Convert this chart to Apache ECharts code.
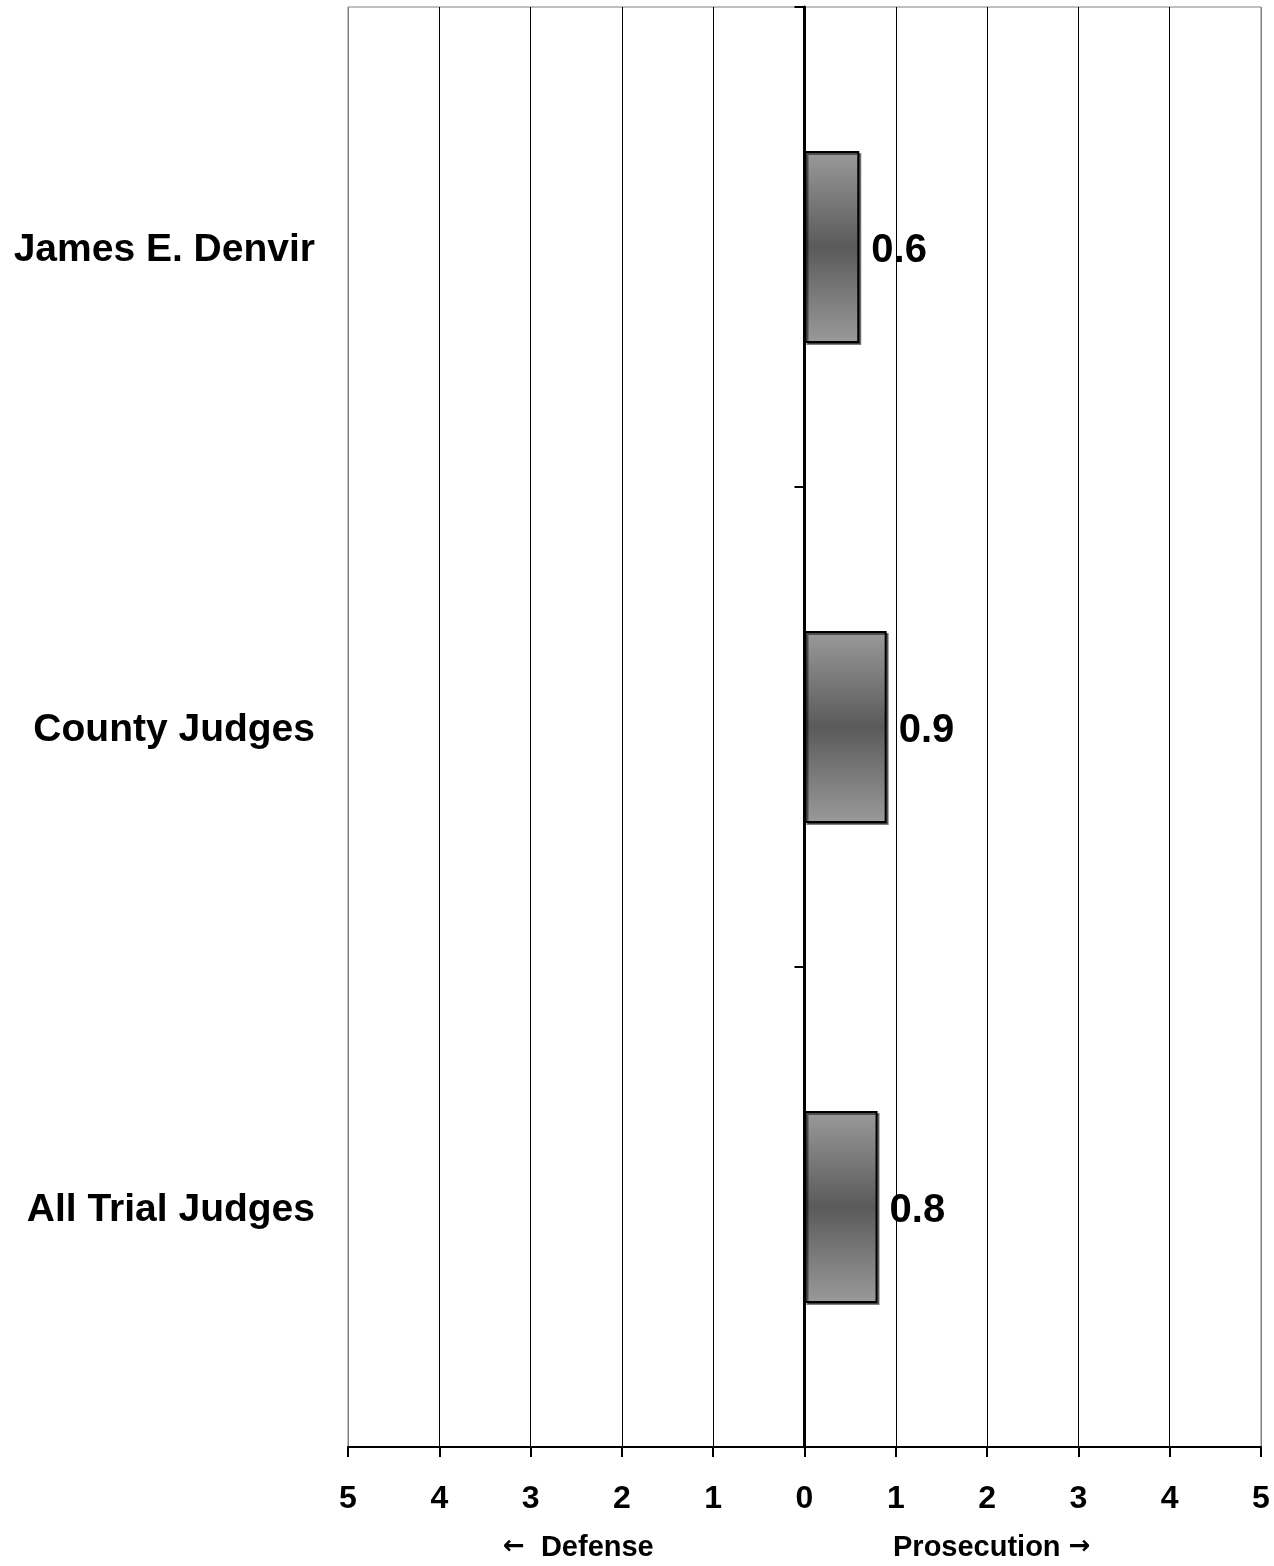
<!DOCTYPE html>
<html>
<head>
<meta charset="utf-8">
<script src="https://cdn.jsdelivr.net/npm/echarts@6/dist/echarts.min.js"></script>
<style>html,body{margin:0;padding:0;background:#fff;}#c{width:1274px;height:1566px;}</style>
</head>
<body>
<div id="c"></div>
<script>
var categories = ['James E. Denvir', 'County Judges', 'All Trial Judges'];
var values = [0.6, 0.9, 0.8];
var axisMin = -5, axisMax = 5, axisStep = 1;
var leftArrow = '\u2190', leftName = 'Defense';
var rightArrow = '\u2192', rightName = 'Prosecution';

var FONT = '"Liberation Sans", Arial, sans-serif';
var chart = echarts.init(document.getElementById('c'), null, {renderer: 'canvas'});
var splitColors = [];
for (var v = axisMin; v <= axisMax; v += axisStep) {
  splitColors.push((v === axisMin || v === axisMax) ? '#808080' : '#000000');
}
var arrowStyle = {fontFamily: '"DejaVu Sans", sans-serif', fontWeight: 'bold', fontSize: 26, fill: '#000'};
chart.setOption({
  backgroundColor: '#ffffff',
  animation: false,
  grid: {left: 348, right: 13, top: 7, bottom: 119, show: true, borderColor: '#808080', borderWidth: 1, backgroundColor: 'transparent'},
  xAxis: {
    type: 'value', min: axisMin, max: axisMax, interval: axisStep,
    axisLine: {show: true, onZero: false, lineStyle: {color: '#000', width: 2}},
    axisTick: {show: true, length: 10, lineStyle: {color: '#000', width: 2}},
    axisLabel: {margin: 36, color: '#000', fontSize: 32, fontWeight: 'bold', fontFamily: FONT,
      formatter: function (v) { return String(Math.abs(v)); }},
    splitLine: {show: true, lineStyle: {color: splitColors, width: 1}}
  },
  yAxis: [{
    type: 'category', data: categories, inverse: true,
    axisLine: {show: false, onZero: false}, axisTick: {show: false},
    axisLabel: {margin: 33, color: '#000', fontSize: 39, fontWeight: 'bold', fontFamily: FONT,
      formatter: function (v) { return '{t|' + v + '}'; },
      rich: {t: {fontSize: 39, fontWeight: 'bold', fontFamily: FONT, color: '#000', padding: [6, 0, 0, 0]}}},
    splitLine: {show: false}
  }, {
    type: 'category', data: categories, inverse: true, position: 'left',
    axisLine: {show: true, onZero: true, lineStyle: {color: '#000', width: 3}},
    axisTick: {show: true, length: 10, lineStyle: {color: '#000', width: 2}},
    axisLabel: {show: false}, splitLine: {show: false}
  }],
  graphic: [
    {type: 'text', left: 503, top: 1533, style: {
      text: '{a|' + leftArrow + '}  ' + leftName, fill: '#000', font: 'bold 29px ' + FONT,
      rich: {a: arrowStyle}}},
    {type: 'text', left: 893, top: 1533, style: {
      text: rightName + ' {a|' + rightArrow + '}', fill: '#000', font: 'bold 29px ' + FONT,
      rich: {a: arrowStyle}}}
  ],
  series: [{
    type: 'bar', yAxisIndex: 0, data: values, barWidth: '40%',
    itemStyle: {
      color: new echarts.graphic.LinearGradient(0, 0, 0, 1, [
        {offset: 0, color: '#9a9a9a'}, {offset: 0.5, color: '#5a5a5a'}, {offset: 1, color: '#9a9a9a'}
      ]),
      borderColor: '#000', borderWidth: 2,
      shadowColor: 'rgba(0,0,0,0.5)', shadowOffsetX: 2, shadowOffsetY: 2, shadowBlur: 0
    },
    label: {show: true, position: 'right', distance: 12, offset: [0, 4], color: '#000', fontSize: 40, fontWeight: 'bold', fontFamily: FONT,
      formatter: function (p) { return p.value.toFixed(1); }}
  }]
});
</script>
</body>
</html>
